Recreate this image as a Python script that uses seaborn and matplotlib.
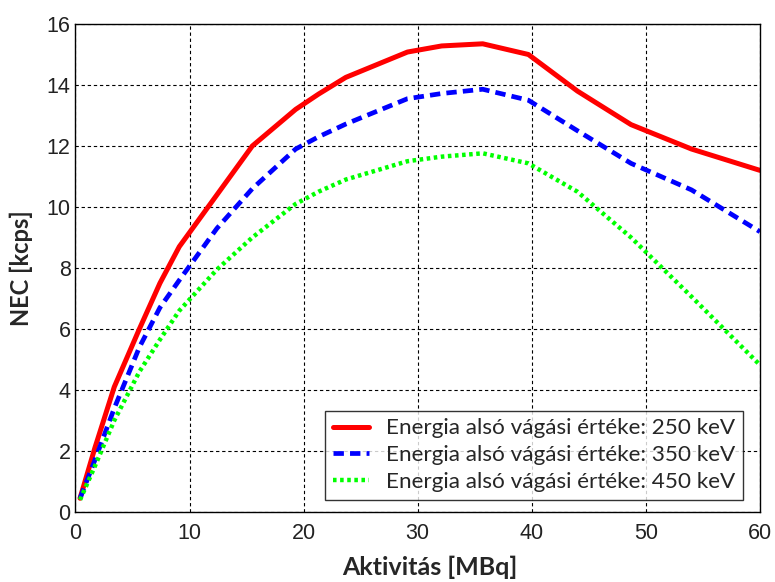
import numpy as np
import pandas as pd
import seaborn as sns
import matplotlib.pyplot as plt

# Aktivitás [MBq]
aktivitas = [0.4, 1.7, 3.4, 5.6, 7.4, 9.1, 12.4, 15.5, 19.3, 21.3, 23.7,
             29.1, 32.1, 35.7, 39.7, 44.0, 48.7, 54.0, 60.0]

# NEC [kcps] különböző energia küszöbökre
nec_250 = [0.45, 2.1, 4.1, 6.0, 7.5, 8.7, 10.4, 12.0, 13.2, 13.7, 14.25,
           15.08, 15.28, 15.35, 15.0, 13.8, 12.7, 11.9, 11.2]
nec_350 = [0.45, 1.7, 3.4, 5.4, 6.7, 7.6, 9.3, 10.6, 11.9, 12.3, 12.72,
           13.55, 13.72, 13.86, 13.5, 12.5, 11.43, 10.56, 9.19]
nec_450 = [0.4, 1.5, 3.0, 4.6, 5.65, 6.6, 7.95, 9.0, 10.1, 10.5, 10.9,
           11.5, 11.65, 11.76, 11.43, 10.5, 9.0, 7.06, 4.82]

labels = ["Energia alsó vágási értéke: 250 keV",
          "Energia alsó vágási értéke: 350 keV",
          "Energia alsó vágási értéke: 450 keV"]

sns.set_style("white")
plt.rcParams['font.family'] = ['Liberation Sans', 'DejaVu Sans']

fig = plt.figure(figsize=(7.75, 5.82), dpi=100)
ax = fig.add_axes([0.0974, 0.1203, 0.8832, 0.8385])

sns.lineplot(x=aktivitas, y=nec_250, ax=ax, color="#ff0000", lw=3.6,
             linestyle="-", label=labels[0])
sns.lineplot(x=aktivitas, y=nec_350, ax=ax, color="#0000ff", lw=3.4,
             linestyle=(0, (2.2, 1.3)), label=labels[1])
sns.lineplot(x=aktivitas, y=nec_450, ax=ax, color="#00ff00", lw=3.2,
             linestyle=(0, (0.8, 0.8)), label=labels[2])

ax.set_xlim(0, 60)
ax.set_ylim(0, 16)
ax.set_xticks(np.arange(0, 61, 10))
ax.set_yticks(np.arange(0, 17, 2))
ax.grid(True, color="black", linestyle=(0, (3, 2.5)), lw=0.8)
ax.tick_params(labelsize=15.5, direction="in", length=4, colors="#222222")
ax.tick_params(axis="x", pad=8)
for s in ax.spines.values():
    s.set_color("black")
    s.set_linewidth(1.0)

ax.set_xlabel("Aktivitás [MBq]", fontsize=18, fontweight="bold",
              family=["Lato", "DejaVu Sans"], labelpad=8)
ax.xaxis.set_label_coords(0.517, -0.09)
ax.set_ylabel("NEC [kcps]", fontsize=17, fontweight="bold",
              family=["Lato", "DejaVu Sans"], labelpad=10)

leg = ax.legend(loc="lower right", bbox_to_anchor=(0.975, 0.025),
                borderaxespad=0,
                prop={"family": ["Lato", "DejaVu Sans"], "size": 16.2},
                frameon=True, fancybox=False, edgecolor="black",
                handlelength=1.6, borderpad=0.35, labelspacing=0.3,
                handletextpad=0.75)
leg.get_frame().set_linewidth(1.0)

fig.savefig("out.png", dpi=100)
